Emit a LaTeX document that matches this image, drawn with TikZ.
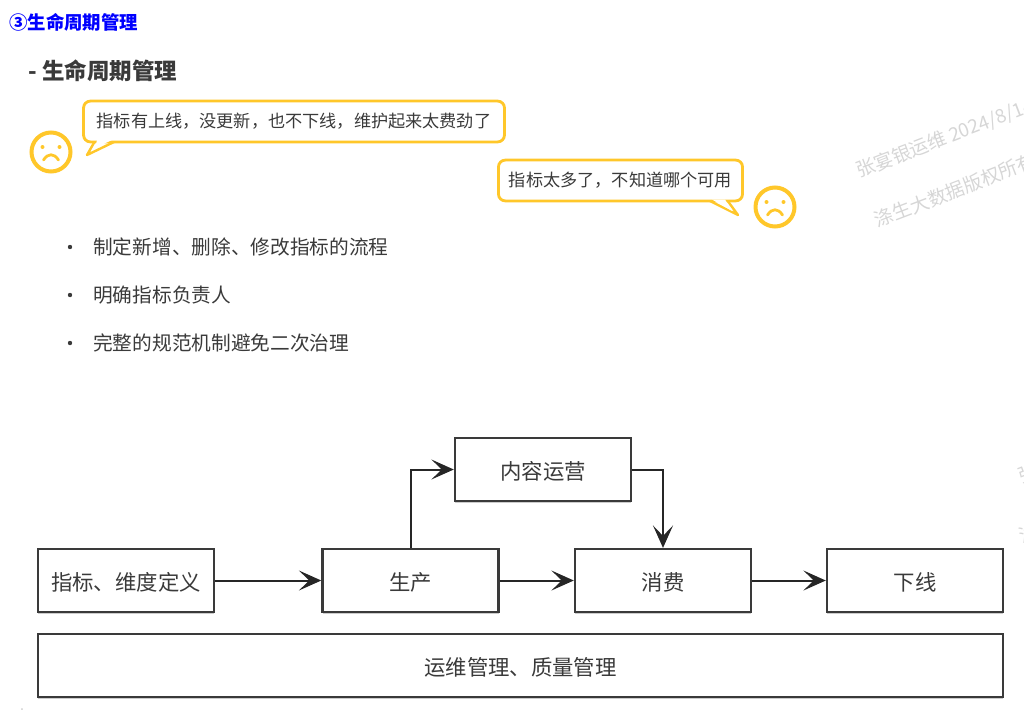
\documentclass[tikz,border=0pt]{standalone}
\usepackage{fontspec}
\setmainfont{Noto Sans CJK SC}
\usepackage{xcolor}
\usetikzlibrary{arrows.meta}
\usetikzlibrary{shadows}
\usetikzlibrary{shapes,arrows,positioning}
\definecolor{bubbleyellow}{HTML}{FFC72A}
\definecolor{inkgray}{HTML}{3A3A3A}
\tikzset{>={Stealth[length=0.56cm,width=0.5cm,inset=0.26cm]}}
\tikzset{
    flowbox/.style={
        draw=inkgray,
        line width=0.06cm,
        fill=white,
        text=inkgray,
        font=\fontsize{15.2pt}{18pt}\selectfont,
        text height=14.8pt,
        text depth=1.2pt,
        minimum width=4.4cm,
        minimum height=1.57cm,
        inner sep=0pt,
        drop shadow={shadow xshift=0.3pt,shadow yshift=-1.4pt,opacity=0.4},
    },
    flowline/.style={
        ->,
        draw=black!85,
        line width=0.05cm,
    },
    bubble/.style={
        draw=bubbleyellow,
        line width=0.07cm,
        rounded corners=0.17cm,
        fill=white,
        text=inkgray,
        font=\fontsize{12.2pt}{15pt}\selectfont,
        minimum height=1.02cm,
        inner sep=0pt,
    },
    bubbletail/.style={
        draw=bubbleyellow,
        line width=0.06cm,
        line join=round,
        fill=white,
    },
    bulletline/.style={
        anchor=west,
        text=inkgray,
        inner sep=0pt,
        font=\fontsize{14pt}{18pt}\selectfont,
    },
    bulletdot/.style={
        circle,
        fill=inkgray,
        inner sep=0pt,
        minimum size=0.11cm,
    },
    watermark/.style={
        anchor=west,
        text=black!16,
        inner sep=0pt,
        rotate=21,
        font=\fontsize{13.5pt}{18pt}\selectfont,
    },
    sadface/.pic={
        \draw[draw=bubbleyellow, line width=0.1cm] (0,0) circle (19.5);
        \fill[bubbleyellow] (-8.5,-5) circle (2);
        \fill[bubbleyellow] (8.5,-5) circle (2);
        \draw[draw=bubbleyellow, line width=0.07cm, line cap=round]
            (-7.5,8) .. controls (-3,1) and (3,1) .. (7.5,8);
    },
}

\begin{document}
\begin{tikzpicture}[x=0.025cm,y=-0.025cm]
    \useasboundingbox (0,0) rectangle (1024,724);
    \clip (0,0) rectangle (1024,724);

    % headings
    \node[anchor=west, inner sep=0pt, text=blue, font=\fontsize{13.1pt}{15pt}\selectfont\bfseries] (title) at (9,22) {③生命周期管理};
    \node[anchor=west, inner sep=0pt, text=inkgray, font=\fontsize{16pt}{20pt}\selectfont\bfseries] (subtitle) at (28,71) {- 生命周期管理};

    % watermark
    \node[watermark] (markone) at (857,172) {张宴银运维 2024/8/14};
    \node[watermark] (marktwo) at (875,221) {涤生大数据版权所有};
    \node[watermark] (markthree) at (1019,478) {张宴银运维 2024/8/14};
    \node[watermark] (markfour) at (1020,537) {涤生大数据版权所有};

    % complaints
    \draw[bubbletail] (95,141) -- (87,155) -- (116,141);
    \node[bubble, minimum width=10.52cm] (bubbleone) at (294,121.5) {指标有上线，没更新，也不下线，维护起来太费劲了};
    \fill[white] (97,140) -- (112,140) -- (95,148) -- cycle;
    \draw[bubbletail] (708,200) -- (738,215) -- (727,200);
    \node[bubble, minimum width=6.1cm] (bubbletwo) at (620.5,180.5) {指标太多了，不知道哪个可用};
    \fill[white] (712,199.5) -- (725,199.5) -- (732,211) -- cycle;
    \pic at (51,152) {sadface};
    \pic at (775,207) {sadface};

    % bullets
    \node[bulletdot] (dotone) at (70,247) {};
    \node[bulletline] (lineone) at (93,247) {制定新增、删除、修改指标的流程};
    \node[bulletdot] (dottwo) at (70,295) {};
    \node[bulletline] (linetwo) at (93,295) {明确指标负责人};
    \node[bulletdot] (dotthree) at (70,343) {};
    \node[bulletline] (linethree) at (93,343) {完整的规范机制避免二次治理};

    % flow
    \node[flowbox] (define) at (126,580.5) {指标、维度定义};
    \node[flowbox] (produce) at (410.5,580.5) {生产};
    \node[flowbox] (consume) at (663,580.5) {消费};
    \node[flowbox] (offline) at (915,580.5) {下线};
    \node[flowbox] (content) at (543,469.5) {内容运营};
    \node[flowbox, minimum width=24.12cm] (opsbar) at (520.5,665.5) {运维管理、质量管理};

    \draw[flowline] (define) -- (produce);
    \draw[flowline] (produce) -- (consume);
    \draw[flowline] (consume) -- (offline);
    \draw[flowline] (produce.north) |- (content.west);
    \draw[flowline] (content.east) -| (consume.north);

    % stray mark
    \node[inner sep=0pt, text=black!55, font=\tiny] (straymark) at (22,710) {-};
\end{tikzpicture}
\end{document}
